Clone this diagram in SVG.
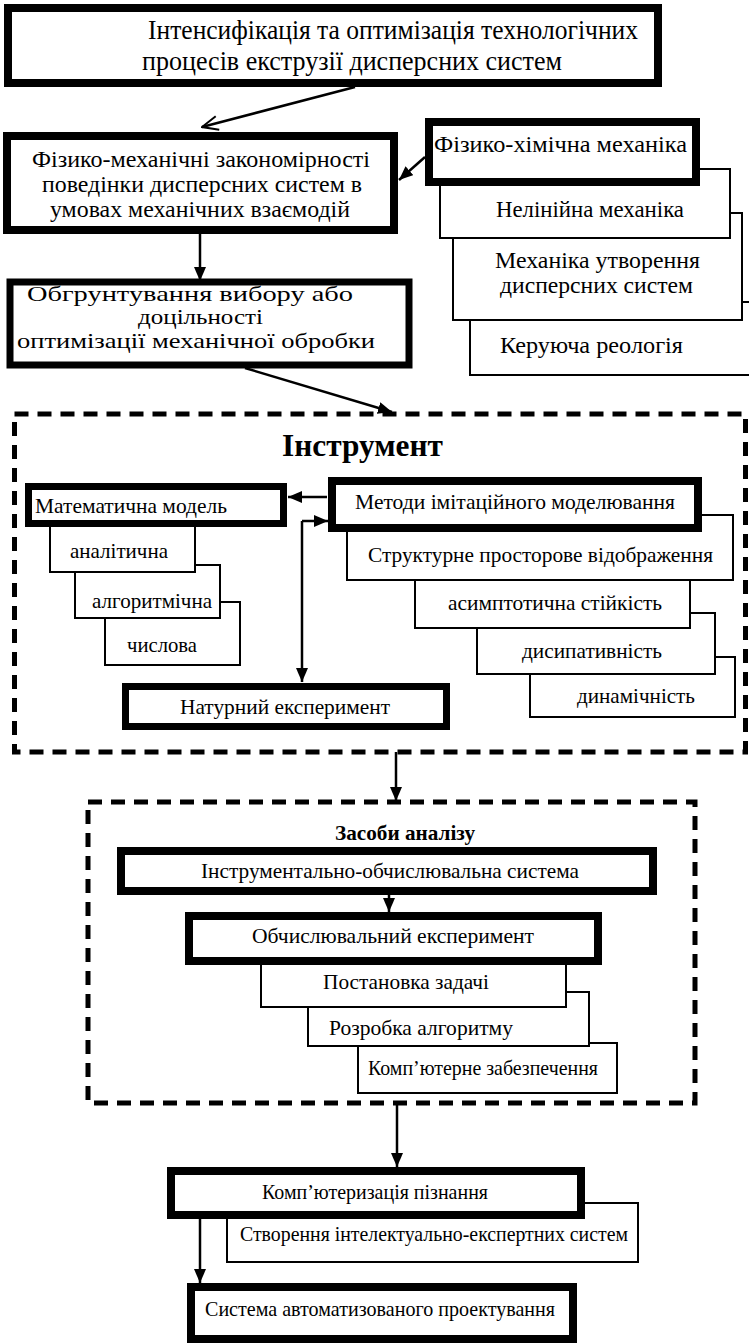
<svg xmlns="http://www.w3.org/2000/svg" width="749" height="1344" viewBox="0 0 749 1344">
<style>
text{font-family:"Liberation Serif","Times New Roman",serif;fill:#000}
.thick{fill:#fff;stroke:#000;stroke-width:8}
.t7{fill:#fff;stroke:#000;stroke-width:7}
.thin{fill:#fff;stroke:#000;stroke-width:2}
.dash{fill:none;stroke:#000;stroke-width:5;stroke-dasharray:14 9}
.conn{fill:none;stroke:#000;stroke-width:2.5}
.f28{font-size:28px}.f24{font-size:24px}.f21{font-size:21px}.f23{font-size:23px}.f22{font-size:22px}
.b{font-weight:bold}
</style>
<defs>
<marker id="ah" markerUnits="userSpaceOnUse" markerWidth="14" markerHeight="12" viewBox="0 0 14 12" refX="14" refY="6" orient="auto"><path d="M0,0 L14,6 L0,12 z" fill="#000"/></marker>
<marker id="open" markerUnits="userSpaceOnUse" markerWidth="18" markerHeight="16" viewBox="0 0 18 16" refX="17" refY="8" orient="auto"><path d="M1,1 L17,8 L1,15" fill="none" stroke="#000" stroke-width="2"/></marker>
</defs>

<g id="n-top">
<rect class="thick" x="8" y="8" width="650" height="75"/>
<text class="f28" x="148" y="39" textLength="490" lengthAdjust="spacingAndGlyphs">Інтенсифікація та оптимізація технологічних</text>
<text class="f28" x="142" y="70" textLength="420" lengthAdjust="spacingAndGlyphs">процесів екструзії дисперсних систем</text>
</g>

<g id="n-fizmech">
<rect class="thick" x="7" y="136" width="387" height="94"/>
<text class="f24" x="32" y="167" textLength="338" lengthAdjust="spacingAndGlyphs">Фізико-механічні закономірності</text>
<text class="f24" x="42" y="192" textLength="320" lengthAdjust="spacingAndGlyphs">поведінки дисперсних систем в</text>
<text class="f24" x="50" y="217" textLength="300" lengthAdjust="spacingAndGlyphs">умовах механічних взаємодій</text>
</g>

<g id="n-keruyucha">
<rect class="thin" x="470" y="302" width="300" height="73"/>
<text class="f23" x="500" y="353" textLength="183" lengthAdjust="spacingAndGlyphs">Керуюча реологія</text>
</g>
<g id="n-mekh-utv">
<rect class="thin" x="453" y="213" width="289" height="107"/>
<text class="f23" x="495" y="268" textLength="205" lengthAdjust="spacingAndGlyphs">Механіка утворення</text>
<text class="f23" x="500" y="293" textLength="193" lengthAdjust="spacingAndGlyphs">дисперсних систем</text>
</g>
<g id="n-nelin">
<rect class="thin" x="440" y="169" width="290" height="69"/>
<text class="f23" x="496" y="217" textLength="188" lengthAdjust="spacingAndGlyphs">Нелінійна механіка</text>
</g>
<g id="n-fizkhim">
<rect class="thick" x="429" y="122" width="267" height="60"/>
<text class="f24" x="434" y="152" textLength="253" lengthAdjust="spacingAndGlyphs">Фізико-хімічна механіка</text>
</g>

<g id="n-obgr">
<rect class="t7" x="10" y="282" width="399" height="83"/>
<text class="f21" x="27" y="301" textLength="326" lengthAdjust="spacingAndGlyphs">Обгрунтування вибору або</text>
<text class="f21" x="138" y="324" textLength="125" lengthAdjust="spacingAndGlyphs">доцільності</text>
<text class="f21" x="17" y="348" textLength="358" lengthAdjust="spacingAndGlyphs">оптимізації механічної обробки</text>
</g>

<g id="g-instrument">
<rect class="dash" x="14.5" y="414" width="731" height="338"/>
<text class="b" x="282" y="456" font-size="32" textLength="161" lengthAdjust="spacingAndGlyphs">Інструмент</text>
</g>

<g id="n-chyslova">
<rect class="thin" x="105" y="602" width="135" height="63"/>
<text class="f21" x="127" y="652" textLength="70" lengthAdjust="spacingAndGlyphs">числова</text>
</g>
<g id="n-alhor">
<rect class="thin" x="75" y="565" width="145" height="53"/>
<text class="f21" x="92" y="608" textLength="120" lengthAdjust="spacingAndGlyphs">алгоритмічна</text>
</g>
<g id="n-analit">
<rect class="thin" x="50" y="520" width="145" height="52"/>
<text class="f21" x="70" y="558" textLength="98" lengthAdjust="spacingAndGlyphs">аналітична</text>
</g>
<g id="n-matmodel">
<rect class="t7" x="28.5" y="486.5" width="255" height="37"/>
<text class="f21" x="35" y="513" textLength="192" lengthAdjust="spacingAndGlyphs">Математична модель</text>
</g>

<g id="n-dynam">
<rect class="thin" x="530" y="657" width="205" height="60"/>
<text class="f21" x="577" y="703" textLength="118" lengthAdjust="spacingAndGlyphs">динамічність</text>
</g>
<g id="n-dysyp">
<rect class="thin" x="477" y="613" width="238" height="61"/>
<text class="f21" x="522" y="658" textLength="140" lengthAdjust="spacingAndGlyphs">дисипативність</text>
</g>
<g id="n-asympt">
<rect class="thin" x="415" y="575" width="275" height="53"/>
<text class="f21" x="448" y="610" textLength="214" lengthAdjust="spacingAndGlyphs">асимптотична стійкість</text>
</g>
<g id="n-strukt">
<rect class="thin" x="347" y="515" width="386" height="65"/>
<text class="f21" x="368" y="562" textLength="345" lengthAdjust="spacingAndGlyphs">Структурне просторове відображення</text>
</g>
<g id="n-metody">
<rect class="thick" x="332" y="481" width="366" height="47"/>
<text class="f21" x="355" y="509" textLength="320" lengthAdjust="spacingAndGlyphs">Методи імітаційного моделювання</text>
</g>

<g id="n-natur">
<rect class="t7" x="125.5" y="686.5" width="321" height="40"/>
<text class="f21" x="180" y="714" textLength="210" lengthAdjust="spacingAndGlyphs">Натурний експеримент</text>
</g>

<g id="g-zasoby">
<rect class="dash" x="88" y="802" width="607" height="301"/>
<text class="b" x="335" y="840" font-size="22" textLength="140" lengthAdjust="spacingAndGlyphs">Засоби аналізу</text>
</g>

<g id="n-instr-obch">
<rect class="thick" x="121" y="851" width="532" height="40"/>
<text class="f21" x="201" y="878" textLength="378" lengthAdjust="spacingAndGlyphs">Інструментально-обчислювальна система</text>
</g>

<g id="n-komp-zab">
<rect class="thin" x="358" y="1043" width="259" height="50"/>
<text class="f21" x="368" y="1075" textLength="230" lengthAdjust="spacingAndGlyphs">Комп’ютерне забезпечення</text>
</g>
<g id="n-rozrobka">
<rect class="thin" x="308" y="992" width="281" height="54"/>
<text class="f21" x="329" y="1035" textLength="184" lengthAdjust="spacingAndGlyphs">Розробка алгоритму</text>
</g>
<g id="n-postanovka">
<rect class="thin" x="261" y="955" width="305" height="52"/>
<text class="f21" x="323" y="989" textLength="166" lengthAdjust="spacingAndGlyphs">Постановка задачі</text>
</g>
<g id="n-obch-exp">
<rect class="thick" x="189" y="916" width="409" height="45"/>
<text class="f21" x="252" y="943" textLength="282" lengthAdjust="spacingAndGlyphs">Обчислювальний експеримент</text>
</g>

<g id="n-stvorennya">
<rect class="thin" x="227" y="1203" width="411" height="59"/>
<text class="f21" x="240" y="1241" textLength="388" lengthAdjust="spacingAndGlyphs">Створення інтелектуально-експертних систем</text>
</g>
<g id="n-kompyut">
<rect class="thick" x="171" y="1171" width="410" height="44"/>
<text class="f21" x="262" y="1199" textLength="226" lengthAdjust="spacingAndGlyphs">Комп’ютеризація пізнання</text>
</g>
<g id="n-sapr">
<rect class="thick" x="191" y="1287" width="382" height="52"/>
<text class="f21" x="205" y="1316" textLength="350" lengthAdjust="spacingAndGlyphs">Система автоматизованого проектування</text>
</g>

<g id="connectors">
<path class="conn" d="M355,87 L202,127" marker-end="url(#open)"/>
<path class="conn" d="M425,157 L399,180" marker-end="url(#ah)"/>
<path class="conn" d="M200,234 V281" marker-end="url(#ah)"/>
<path class="conn" d="M245,368 L392,412" marker-end="url(#ah)"/>
<path class="conn" d="M327,497 H288" marker-end="url(#ah)"/>
<path class="conn" d="M302,521 H328" marker-end="url(#ah)"/>
<path class="conn" d="M302,521 V682" marker-end="url(#ah)"/>
<path class="conn" d="M396,752 V801" marker-end="url(#ah)"/>
<path class="conn" d="M389,895 V912" marker-end="url(#ah)"/>
<path class="conn" d="M397,1103 V1167" marker-end="url(#ah)"/>
<path class="conn" d="M200,1219 V1283" marker-end="url(#ah)"/>
</g>
</svg>
